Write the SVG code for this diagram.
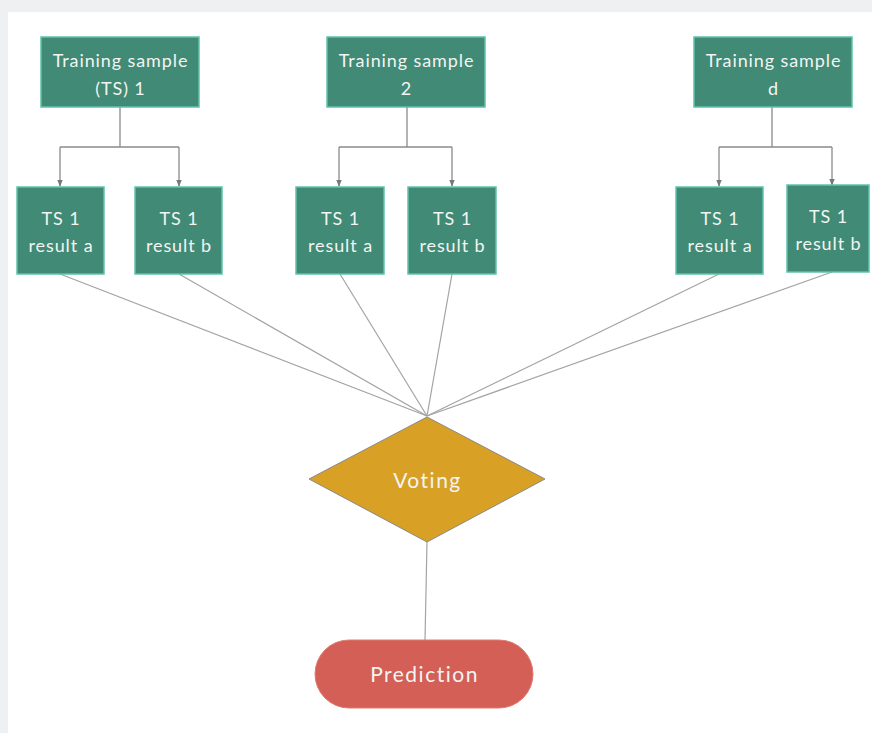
<svg xmlns="http://www.w3.org/2000/svg" width="872" height="733" viewBox="0 0 872 733">
<defs>
<style>
.box{fill:#418a75;stroke:#5fc2ac;stroke-width:1.5}
.t{font-family:Lato,"Open Sans","Liberation Sans",sans-serif;fill:#f2f5f3;text-anchor:middle;font-size:18px;letter-spacing:0.9px}
.big{font-size:21px;letter-spacing:1.5px}
.c{fill:none;stroke:#8a8a8a;stroke-width:1.3}
.l{fill:none;stroke:#a3a3a3;stroke-width:1.2}
</style>
<marker id="arr" viewBox="0 0 10 10" refX="9" refY="5" markerWidth="7" markerHeight="7" orient="auto" markerUnits="userSpaceOnUse">
<path d="M0,1 L10,5 L0,9 z" fill="#777"/>
</marker>
</defs>
<rect x="0" y="0" width="872" height="733" fill="#eef0f2"/>
<rect x="8" y="12" width="864" height="721" fill="#ffffff"/>

<g id="connectors">
<path class="c" d="M120,107 V147 M60,147 H179" />
<path class="c" d="M60,147 V186" marker-end="url(#arr)"/>
<path class="c" d="M179,147 V186" marker-end="url(#arr)"/>
<path class="c" d="M407,107 V147 M339,147 H452" />
<path class="c" d="M339,147 V186" marker-end="url(#arr)"/>
<path class="c" d="M452,147 V186" marker-end="url(#arr)"/>
<path class="c" d="M772,107 V147 M719,147 H832" />
<path class="c" d="M719,147 V186" marker-end="url(#arr)"/>
<path class="c" d="M832,147 V185" marker-end="url(#arr)"/>
<path class="l" d="M60,274 L427,416"/>
<path class="l" d="M179,274 L427,416"/>
<path class="l" d="M340,274 L427,416"/>
<path class="l" d="M452,274 L427,416"/>
<path class="l" d="M719,274 L427,416"/>
<path class="l" d="M832,272 L427,416"/>
<path class="l" d="M427,542 L425,640"/>
</g>

<g id="ts1">
<rect class="box" x="41" y="37" width="158" height="70"/>
<text class="t" x="120.5" y="67">Training sample</text>
<text class="t" x="120.5" y="95">(TS) 1</text>
</g>
<g id="ts2">
<rect class="box" x="327" y="37" width="158" height="70"/>
<text class="t" x="406.5" y="67">Training sample</text>
<text class="t" x="406.5" y="95">2</text>
</g>
<g id="tsd">
<rect class="box" x="694" y="37" width="158" height="70"/>
<text class="t" x="773.5" y="67">Training sample</text>
<text class="t" x="773.5" y="95">d</text>
</g>

<g id="r1a">
<rect class="box" x="17" y="187" width="87" height="87"/>
<text class="t" x="61" y="225">TS 1</text>
<text class="t" x="61" y="252">result a</text>
</g>
<g id="r1b">
<rect class="box" x="135" y="187" width="87" height="87"/>
<text class="t" x="179" y="225">TS 1</text>
<text class="t" x="179" y="252">result b</text>
</g>
<g id="r2a">
<rect class="box" x="296" y="187" width="88" height="87"/>
<text class="t" x="340.5" y="225">TS 1</text>
<text class="t" x="340.5" y="252">result a</text>
</g>
<g id="r2b">
<rect class="box" x="408" y="187" width="88" height="87"/>
<text class="t" x="452.5" y="225">TS 1</text>
<text class="t" x="452.5" y="252">result b</text>
</g>
<g id="rda">
<rect class="box" x="676" y="187" width="87" height="87"/>
<text class="t" x="720" y="225">TS 1</text>
<text class="t" x="720" y="252">result a</text>
</g>
<g id="rdb">
<rect class="box" x="787" y="185" width="82" height="87"/>
<text class="t" x="828.5" y="223">TS 1</text>
<text class="t" x="828.5" y="250">result b</text>
</g>

<g id="voting">
<polygon points="427,417 545,479 427,542 309,479" fill="#d8a025" stroke="#8a8a8a" stroke-width="1"/>
<text class="t big" x="427.5" y="488">Voting</text>
</g>

<g id="prediction">
<rect x="315" y="640" width="218" height="68" rx="34" ry="34" fill="#d35f56" stroke="#e07a70" stroke-width="1"/>
<text class="t big" x="424.5" y="682">Prediction</text>
</g>
</svg>
